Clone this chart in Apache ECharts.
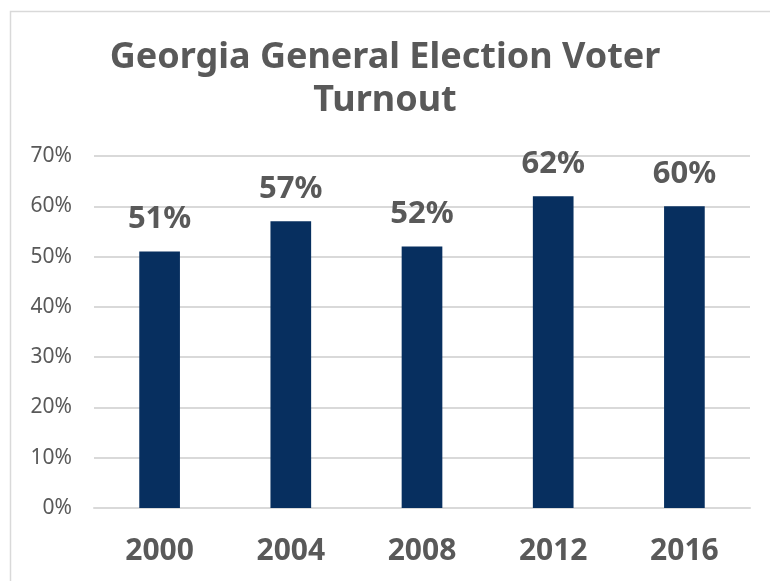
<!DOCTYPE html>
<html>
<head>
<meta charset="utf-8">
<script src="https://cdn.jsdelivr.net/npm/echarts@6/dist/echarts.min.js"></script>
<style>
html,body{margin:0;padding:0;background:#fff;}
#chart{width:770px;height:581px;}
</style>
</head>
<body>
<div id="chart"></div>
<script>
const titleText = "Georgia General Election Voter\nTurnout";
const categories = ["2000", "2004", "2008", "2012", "2016"];
const turnout = [51, 57, 52, 62, 60];

const chart = echarts.init(document.getElementById('chart'), null, {renderer: 'canvas'});
const textColor = '#595959';
const fontFam = '"Noto Sans", "DejaVu Sans", sans-serif';

chart.setOption({
  animation: false,
  backgroundColor: '#ffffff',
  graphic: [{
    type: 'rect',
    shape: {x: 10.5, y: 11.5, width: 800, height: 620},
    style: {fill: 'none', stroke: '#d9d9d9', lineWidth: 1.5},
    silent: true
  }],
  title: {
    text: titleText,
    left: 'center',
    top: 31,
    textStyle: {
      color: textColor,
      fontFamily: fontFam,
      fontWeight: 'bold',
      fontSize: 36,
      lineHeight: 43
    }
  },
  grid: {left: 94, right: 20, top: 156, bottom: 73},
  xAxis: {
    type: 'category',
    data: categories,
    axisLine: {show: true, lineStyle: {color: '#d9d9d9', width: 2}},
    axisTick: {show: false},
    axisLabel: {
      color: textColor,
      fontFamily: fontFam,
      fontWeight: 'bold',
      fontSize: 30,
      margin: 28
    }
  },
  yAxis: {
    type: 'value',
    min: 0,
    max: 70,
    interval: 10,
    axisLine: {show: false},
    axisTick: {show: false},
    splitLine: {lineStyle: {color: '#d9d9d9', width: 2}},
    axisLabel: {
      color: textColor,
      fontFamily: fontFam,
      fontSize: 21,
      margin: 22,
      formatter: v => v + '%'
    }
  },
  series: [{
    type: 'bar',
    data: turnout,
    barWidth: '31%',
    itemStyle: {color: '#072F5F'},
    label: {
      show: true,
      position: 'top',
      distance: 17,
      color: textColor,
      fontFamily: fontFam,
      fontWeight: 'bold',
      fontSize: 31,
      formatter: p => p.value + '%'
    }
  }]
});
</script>
</body>
</html>
